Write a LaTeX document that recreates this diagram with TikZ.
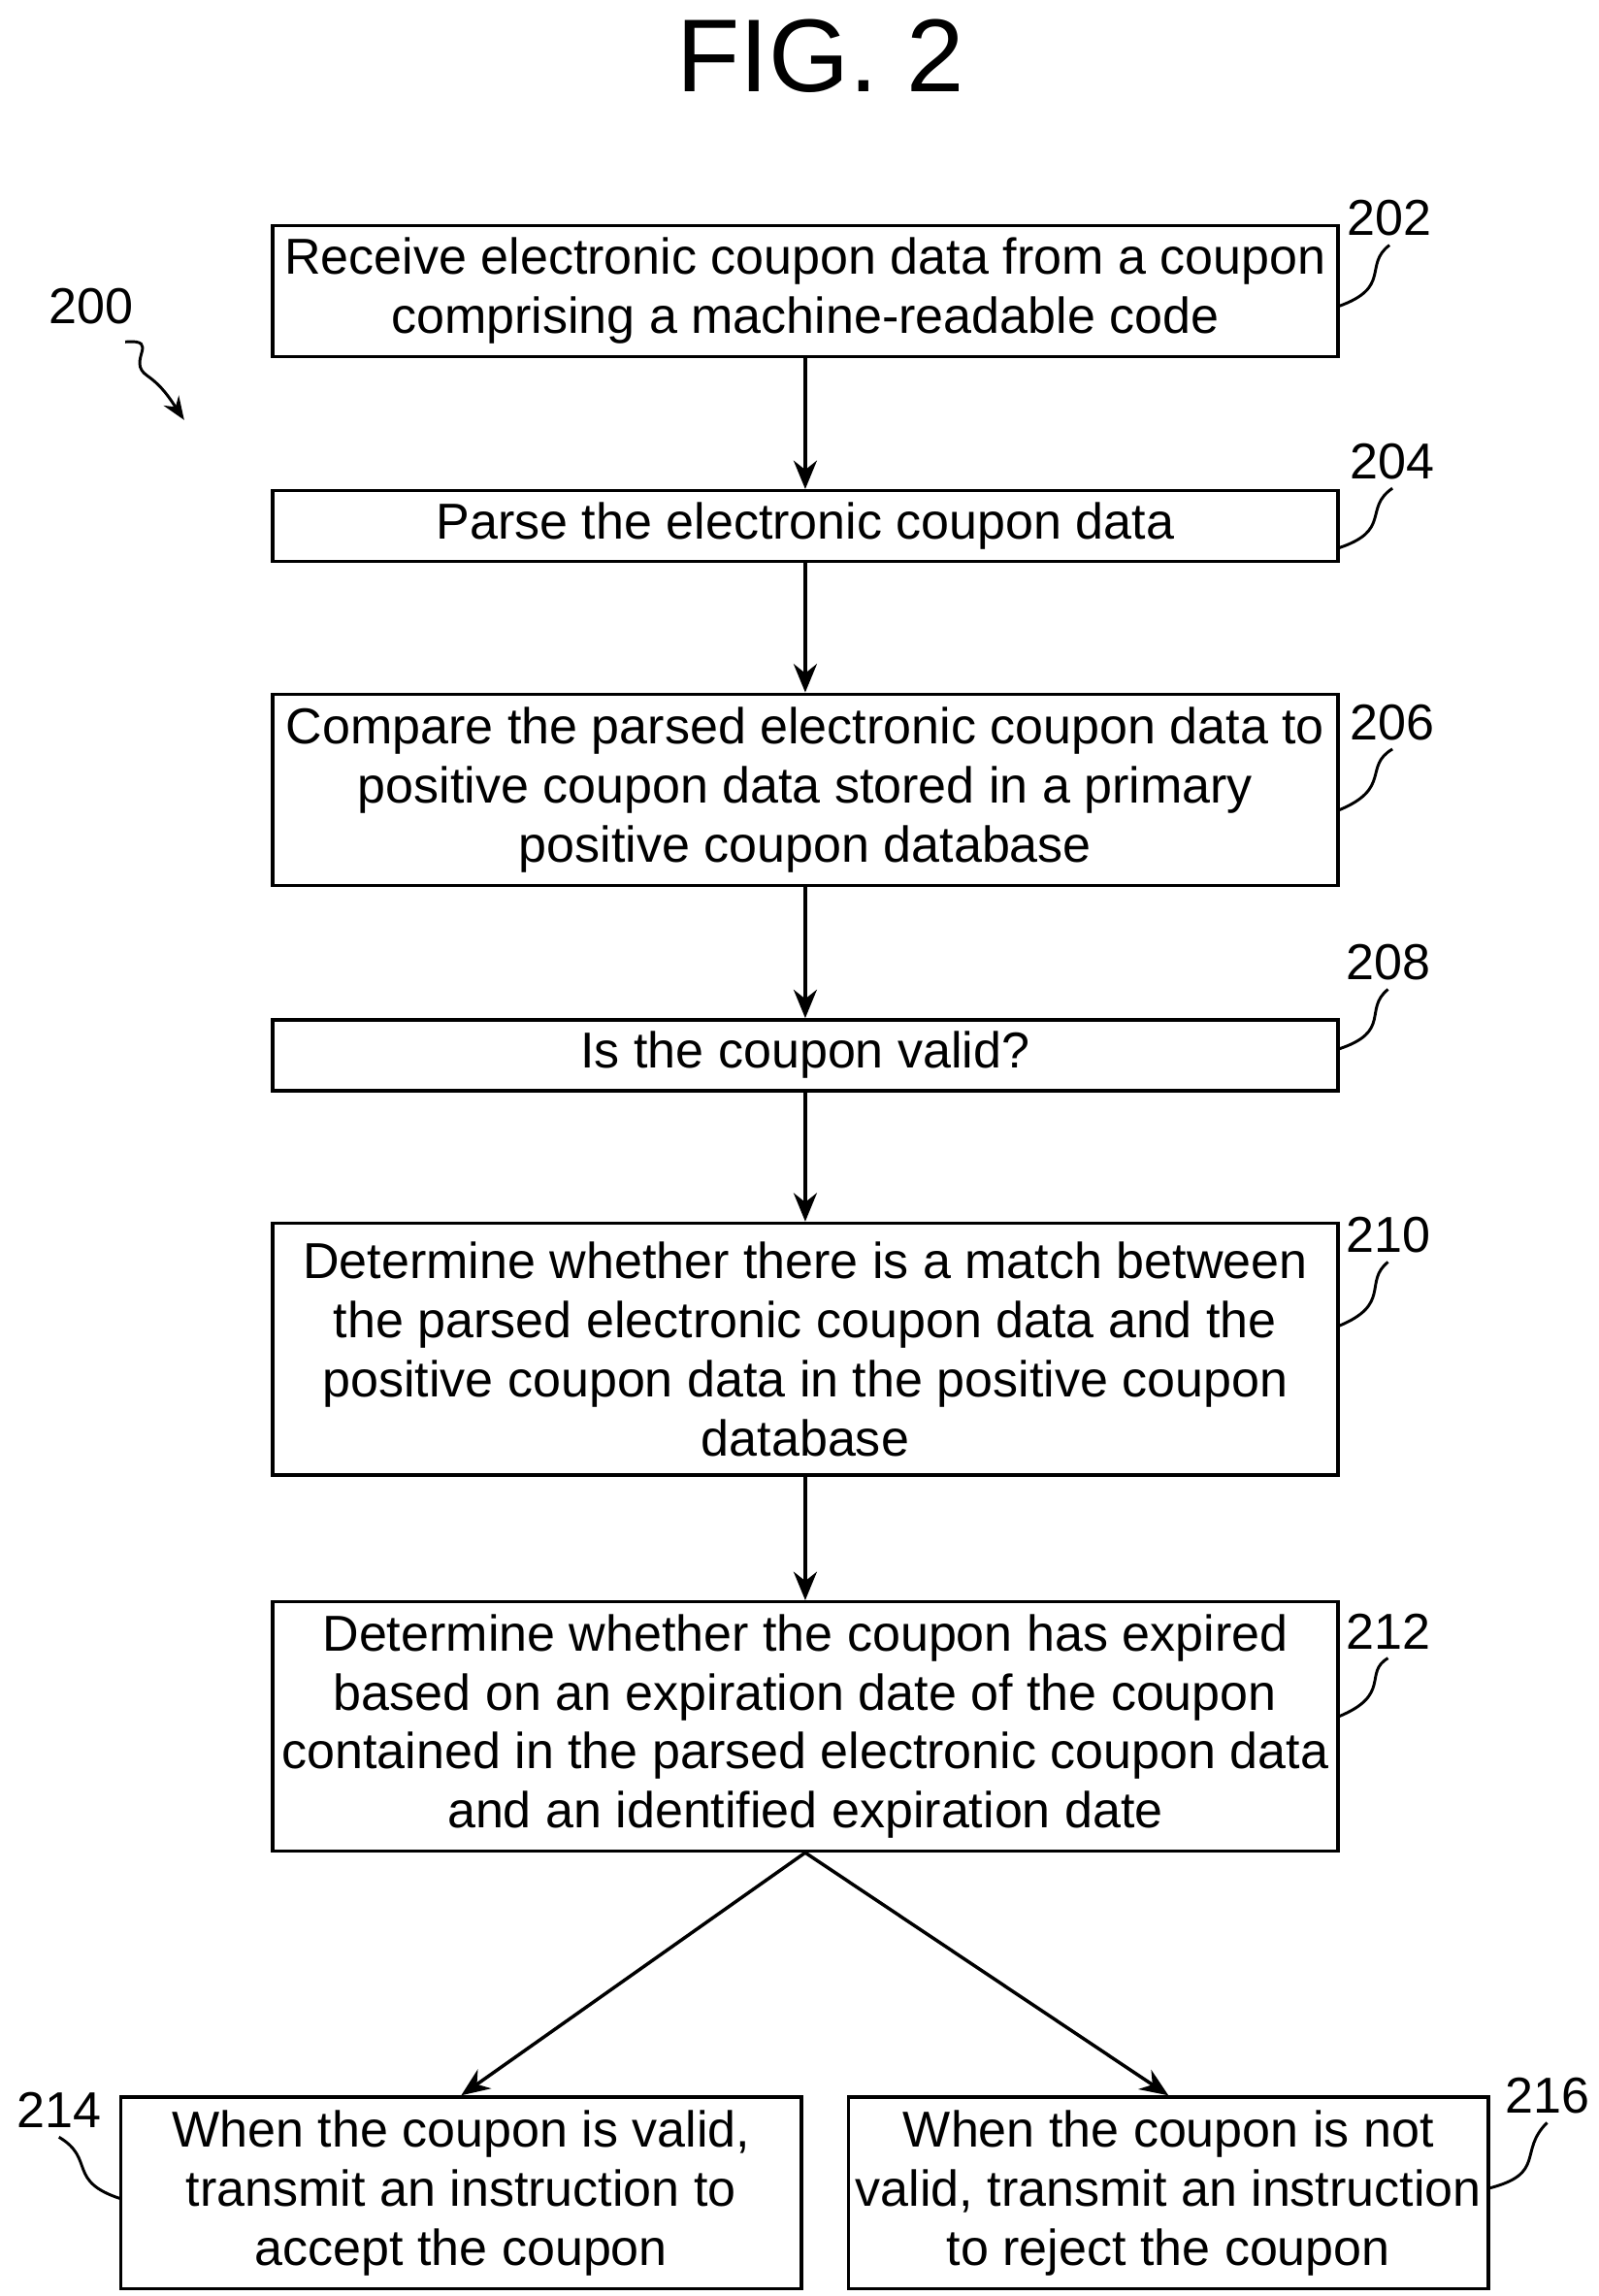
\documentclass[tikz,border=0pt]{standalone}
\usepackage{fontspec}
\setmainfont{Liberation Sans}
\usetikzlibrary{positioning, arrows.meta}
\tikzset{
  stepbox/.style = {rectangle, draw=black, line width=1.3pt, align=center, inner sep=2pt,
    font=\fontsize{19.5}{22.8}\selectfont},
  arrow/.style = {line width=1.3pt, -{Stealth[length=11pt,width=9pt]}},
  lead/.style = {line width=1.1pt},
  ref/.style = {font=\fontsize{19.5}{22}\selectfont}
}
\begin{document}
\begin{tikzpicture}[x=0.02cm, y=-0.02cm]
\useasboundingbox (0,0) rectangle (1085,1558);

\node (fig) at (557,38) {\fontsize{40}{44}\selectfont FIG. 2};

\node (s202) [stepbox, minimum width=723*0.02cm, minimum height=89*0.02cm] at (546.5,197.5) {Receive electronic coupon data from a coupon\\comprising a machine-readable code};
\node (s204) [stepbox, minimum width=723*0.02cm, minimum height=48*0.02cm] at (546.5,357) {Parse the electronic coupon data};
\node (s206) [stepbox, minimum width=723*0.02cm, minimum height=130*0.02cm] at (546.5,536) {Compare the parsed electronic coupon data to\\positive coupon data stored in a primary\\positive coupon database};
\node (s208) [stepbox, minimum width=723*0.02cm, minimum height=48*0.02cm] at (546.5,716) {Is the coupon valid?};
\node (s210) [stepbox, minimum width=723*0.02cm, minimum height=171*0.02cm] at (546.5,915.5) {Determine whether there is a match between\\the parsed electronic coupon data and the\\positive coupon data in the positive coupon\\database};
\node (s212) [stepbox, minimum width=723*0.02cm, minimum height=169*0.02cm] at (546.5,1171.5) {Determine whether the coupon has expired\\based on an expiration date of the coupon\\contained in the parsed electronic coupon data\\and an identified expiration date};
\node (s214) [stepbox, minimum width=462*0.02cm, minimum height=130*0.02cm] at (313,1488) {When the coupon is valid,\\transmit an instruction to\\accept the coupon};
\node (s216) [stepbox, minimum width=434*0.02cm, minimum height=130*0.02cm] at (793,1488) {When the coupon is not\\valid, transmit an instruction\\to reject the coupon};

\draw [arrow] (s202) -- (s204);
\draw [arrow] (s204) -- (s206);
\draw [arrow] (s206) -- (s208);
\draw [arrow] (s208) -- (s210);
\draw [arrow] (s210) -- (s212);
\draw [arrow] (s212.south) -- (s214.north);
\draw [arrow] (s212.south) -- (s216.north);

% reference numerals
\node (r202) [ref] at (943,148) {202};
\node (r204) [ref] at (945,313) {204};
\node (r206) [ref] at (945,490) {206};
\node (r208) [ref] at (942,653) {208};
\node (r210) [ref] at (942,838) {210};
\node (r212) [ref] at (942,1107) {212};
\node (r214) [ref] at (40,1432) {214};
\node (r216) [ref] at (1050,1422) {216};
\node (r200) [ref] at (62,208) {200};

\draw [lead] (908,208) .. controls (945,195) and (925,180) .. (r202.south);
\draw [lead] (908,372) .. controls (945,360) and (925,345) .. (r204.south);
\draw [lead] (908,550) .. controls (945,535) and (925,520) .. (r206.south);
\draw [lead] (908,712) .. controls (945,700) and (925,685) .. (r208.south);
\draw [lead] (908,900) .. controls (945,885) and (925,870) .. (r210.south);
\draw [lead] (908,1165) .. controls (945,1150) and (925,1135) .. (r212.south);
\draw [lead] (82,1492) .. controls (45,1480) and (65,1465) .. (r214.south);
\draw [lead] (1010,1485) .. controls (1050,1475) and (1030,1460) .. (r216.south);
\draw [lead, -{Stealth[length=9pt,width=7pt]}] (85,232) .. controls (110,230) and (85,245) .. (100,255) .. controls (110,262) and (115,270) .. (125,285);
\end{tikzpicture}
\end{document}
